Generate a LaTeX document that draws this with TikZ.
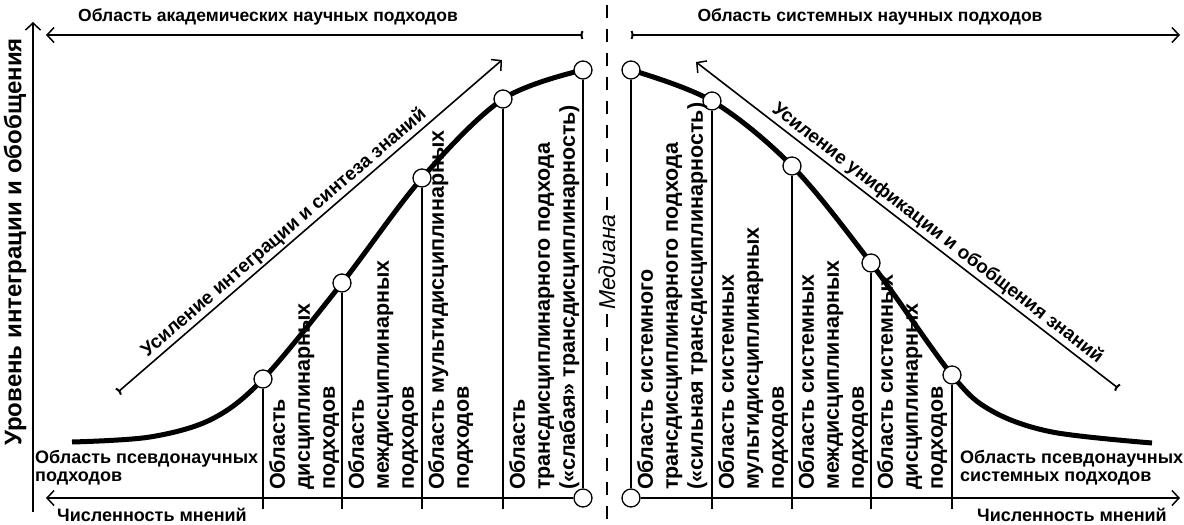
\documentclass[tikz,border=0pt]{standalone}
\usepackage{fontspec}
\setmainfont{Liberation Sans}
\usetikzlibrary{arrows.meta}
\tikzset{
  myb/.tip={Straight Barb[length=7pt,width=15pt,line width=1.5pt]},
  myp/.tip={Parenthesis[reversed,length=3pt,width=11pt,line width=2pt]},
}
\begin{document}
\begin{tikzpicture}[x=1pt,y=-1pt,
  lbl/.style={font=\bfseries\fontsize{18}{18.5}\selectfont, inner sep=0pt, align=left},
  toplbl/.style={font=\bfseries\fontsize{17.5}{18}\selectfont, inner sep=0pt},
  diaglbl/.style={font=\bfseries\fontsize{19}{20}\selectfont, inner sep=3pt, anchor=south},
  vlbl/.style={font=\bfseries\fontsize{21.5}{25}\selectfont, inner sep=0pt, align=left, rotate=90, anchor=north west},
  axisline/.style={line width=1.6pt},
  vline/.style={line width=1.1pt},
  sigcurve/.style={line width=5pt},
  ring/.style={circle, draw, fill=white, line width=1.3pt, minimum size=18pt, inner sep=0pt},
  medline/.style={line width=1.8pt, dash pattern=on 13pt off 11pt},
]
\useasboundingbox (0,0) rectangle (1184,525);
% vertical axis
\coordinate (yb) at (33,512);
\coordinate (yt) at (33,22);
\draw[axisline,-myb] (yb) -- (yt);
\node[font=\bfseries\fontsize{24}{26}\selectfont, rotate=90, inner sep=0pt] (ylab) at (15,242) {Уровень интеграции и обобщения};
% top arrows
\coordinate (tla) at (46,35);
\coordinate (tlb) at (583,35);
\draw[axisline,myb-myp] (tla) -- (tlb);
\node[toplbl] (tll) at (268,17) {Область академических научных подходов};
\coordinate (tra) at (631,35);
\coordinate (trb) at (1180,35);
\draw[axisline,myp-myb] (tra) -- (trb);
\node[toplbl] (trl) at (870,17) {Область системных научных подходов};
% median
\node[font=\itshape\fontsize{23}{25}\selectfont, rotate=90, fill=white, inner sep=4pt] (med) at (607,262) {Медиана};
\coordinate (mt) at (607,4);
\coordinate (mb) at (607,524);
\draw[medline] (med.east) -- (mt);
\draw[medline] (med.west) -- (mb);
% curve points
\coordinate (lc0) at (72,442);
\coordinate (lc1) at (150,437);
\coordinate (lc2) at (212,419);
\coordinate (cL1) at (263,379);
\coordinate (cL2) at (342,283);
\coordinate (cL3) at (422,178);
\coordinate (cL4) at (503,99);
\coordinate (cL5) at (583,70);
\coordinate (cR1) at (631,70);
\coordinate (cR2) at (712,101);
\coordinate (cR3) at (792,166);
\coordinate (cR4) at (871,263);
\coordinate (cR5) at (952,375);
\coordinate (rc1) at (992,411);
\coordinate (rc2) at (1052,432);
\coordinate (rc3) at (1152,443);
\draw[sigcurve] plot[smooth, tension=0.55] coordinates {(lc0) (lc1) (lc2) (cL1) (cL2) (cL3) (cL4) (cL5)};
\draw[sigcurve] plot[smooth, tension=0.55] coordinates {(cR1) (cR2) (cR3) (cR4) (cR5) (rc1) (rc2) (rc3)};
% rings
\foreach \n in {L1,L2,L3,L4,L5,R1,R2,R3,R4,R5} {\node[ring] (\n) at (c\n) {};}
\node[ring] (LB) at (583,498) {};
\node[ring] (RB) at (631,498) {};
% bottom axes
\coordinate (bla) at (46,498);
\coordinate (bra) at (1180,498);
\draw[axisline,-myb] (LB) -- (bla);
\draw[axisline,-myb] (RB) -- (bra);
% vertical separators
\coordinate (L1b) at (263,509);
\coordinate (L2b) at (342,509);
\coordinate (L3b) at (422,509);
\coordinate (L4b) at (503,509);
\coordinate (R2b) at (712,509);
\coordinate (R3b) at (792,509);
\coordinate (R4b) at (871,509);
\coordinate (R5b) at (952,509);
\foreach \n in {L1,L2,L3,L4,R2,R3,R4,R5} {\draw[vline] (\n) -- (\n b);}
\draw[vline] (L5) -- (LB);
\draw[vline] (R1) -- (RB);
% vertical labels
\node[vlbl] (v1) at (269,490) {Область\\дисциплинарных\\подходов};
\node[vlbl] (v2) at (348,490) {Область\\междисциплинарных\\подходов};
\node[vlbl] (v3) at (428,490) {Область мультидисциплинарных\\подходов};
\node[vlbl] (v4) at (509,490) {Область\\трансдисциплинарного подхода\\(«слабая» трансдисциплинарность)};
\node[vlbl] (v5) at (637,490) {Область системного\\трансдисциплинарного подхода\\(«сильная трансдисциплинарность)};
\node[vlbl] (v6) at (718,490) {Область системных\\мультидисциплинарных\\подходов};
\node[vlbl] (v7) at (798,490) {Область системных\\междисциплинарных\\подходов};
\node[vlbl] (v8) at (877,490) {Область системных\\дисциплинарных\\подходов};
% horizontal labels
\node[lbl, anchor=north west] (pl) at (35,450) {Область псевдонаучных\\подходов};
\node[lbl, anchor=north west] (pr) at (960,450) {Область псевдонаучных\\системных подходов};
\node[lbl] (nl) at (152,515) {Численность мнений};
\node[lbl] (nr) at (1072,515) {Численность мнений};
% diagonal arrows
\coordinate (d1a) at (118,392);
\coordinate (d1b) at (502,60);
\draw[axisline,myp-myb] (d1a) -- (d1b);
\node[diaglbl, rotate=40.85] (d1l) at (292,242) {Усиление интеграции и синтеза знаний};
\coordinate (d2a) at (1118,388);
\coordinate (d2b) at (696,62);
\draw[axisline,myp-myb] (d2a) -- (d2b);
\node[diaglbl, rotate=-37.7] (d2l) at (930,243) {Усиление унификации и обобщения знаний};
\end{tikzpicture}
\end{document}
